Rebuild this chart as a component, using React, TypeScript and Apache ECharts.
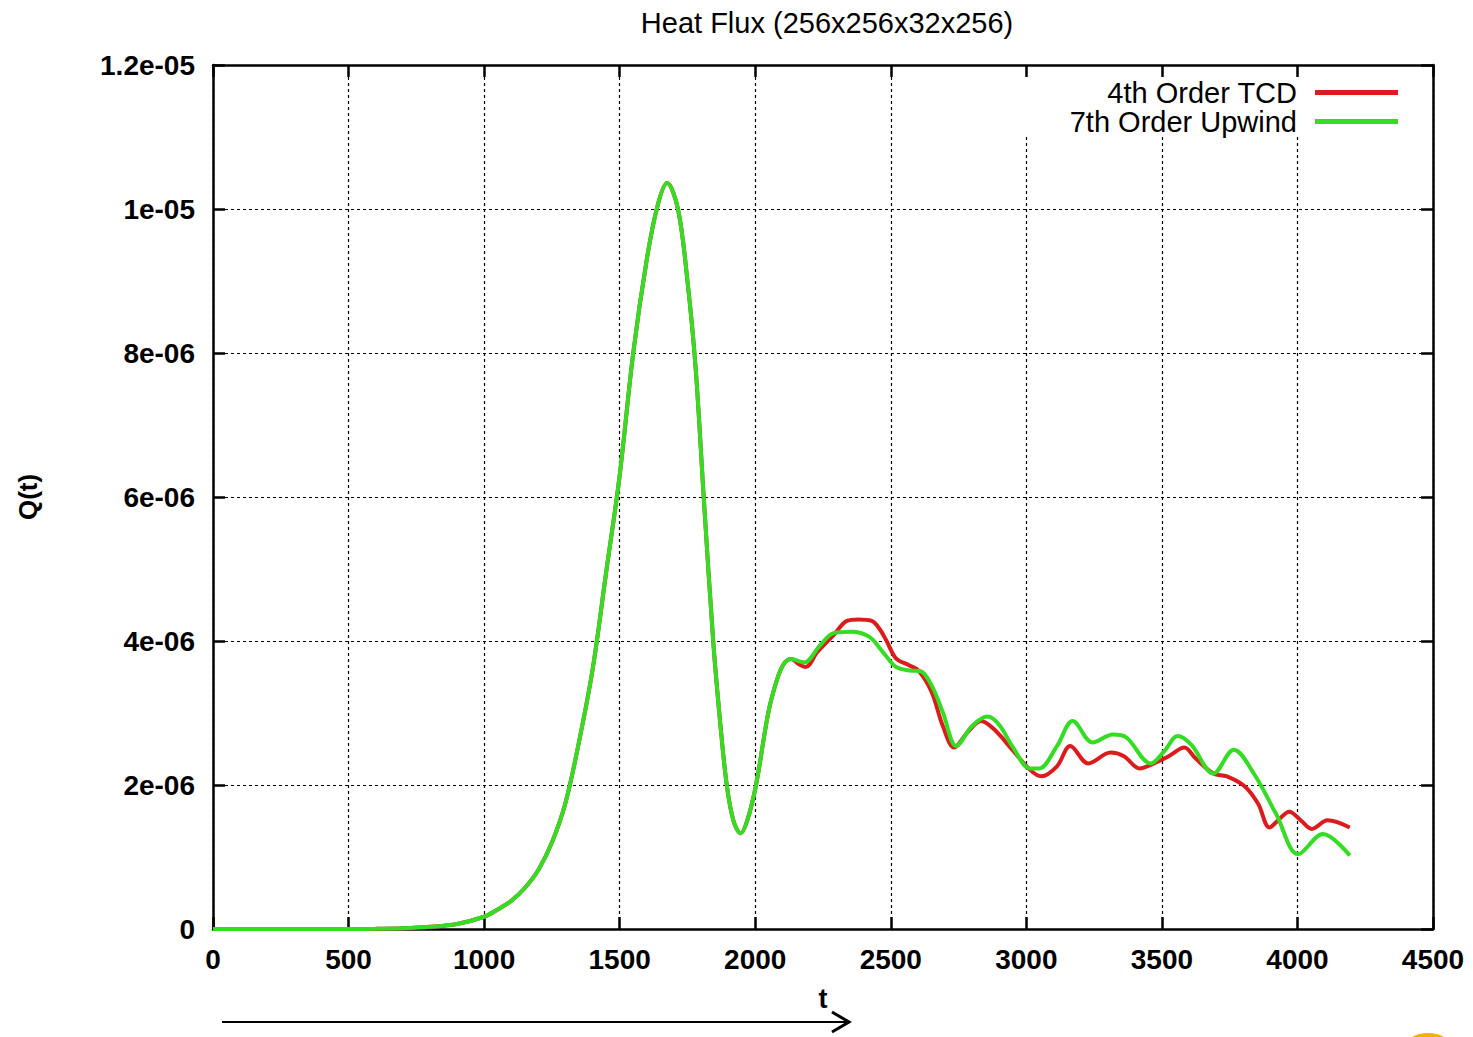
import React, { useEffect, useRef } from "react";
import * as echarts from "echarts";

// ---- Data (t, Q in units of 1e-6) ----
const tCommon = [0, 300, 500, 600, 700, 800, 900, 1000, 1050, 1100, 1150, 1200, 1250, 1300, 1350, 1400, 1450, 1500, 1550, 1600, 1640, 1675, 1715, 1750, 1780, 1810, 1845, 1870, 1895, 1920, 1946, 1970, 2003, 2048, 2080, 2105, 2133];
const qCommon = [0, 0, 0, 0.003, 0.01, 0.03, 0.07, 0.17, 0.27, 0.39, 0.57, 0.82, 1.2, 1.75, 2.6, 3.6, 4.95, 6.3, 8.0, 9.3, 10.05, 10.36, 10.0, 9.0, 7.8, 6.0, 4.0, 2.9, 2.0, 1.5, 1.33, 1.5, 2.0, 3.0, 3.46, 3.68, 3.75];

const tTCD = [2160, 2186, 2230, 2289, 2338, 2380, 2430, 2460, 2486, 2519, 2569, 2602, 2651, 2692, 2734, 2783, 2833, 2882, 2948, 3014, 3055, 3113, 3162, 3228, 3311, 3360, 3418, 3459, 3525, 3583, 3624, 3690, 3740, 3806, 3855, 3897, 3929, 3970, 4012, 4053, 4111, 4193];
const qTCD = [3.68, 3.64, 3.85, 4.08, 4.28, 4.30, 4.28, 4.16, 3.99, 3.76, 3.66, 3.59, 3.29, 2.82, 2.52, 2.73, 2.89, 2.77, 2.49, 2.21, 2.12, 2.26, 2.54, 2.30, 2.45, 2.40, 2.23, 2.28, 2.40, 2.52, 2.37, 2.16, 2.12, 1.98, 1.74, 1.41, 1.51, 1.63, 1.51, 1.39, 1.51, 1.41];

const tUpwind = [2160, 2181, 2239, 2289, 2355, 2420, 2470, 2519, 2569, 2610, 2651, 2692, 2742, 2800, 2857, 2899, 2948, 3014, 3047, 3113, 3171, 3245, 3319, 3369, 3459, 3509, 3558, 3608, 3690, 3765, 3839, 3921, 4003, 4094, 4193];
const qUpwind = [3.72, 3.70, 3.94, 4.11, 4.13, 4.06, 3.85, 3.64, 3.59, 3.58, 3.38, 3.01, 2.54, 2.82, 2.95, 2.84, 2.54, 2.23, 2.23, 2.54, 2.89, 2.59, 2.70, 2.66, 2.30, 2.47, 2.68, 2.56, 2.16, 2.49, 2.16, 1.60, 1.04, 1.32, 1.02];

const xTicks = [0, 500, 1000, 1500, 2000, 2500, 3000, 3500, 4000, 4500];
const yTickLabels = ["0", "2e-06", "4e-06", "6e-06", "8e-06", "1e-05", "1.2e-05"];
const seriesNames = ["4th Order TCD", "7th Order Upwind"];
const seriesColors = ["#dc1c1c", "#34dc24"];

const SCALE = 1e-6;
const FONT = "'Liberation Sans', Arial, sans-serif";

function build(ts: number[], qs: number[]) {
  const out: number[][] = [];
  tCommon.forEach((t, i) => out.push([t, qCommon[i] * SCALE]));
  ts.forEach((t, i) => out.push([t, qs[i] * SCALE]));
  return out;
}

export default function App() {
  const ref = useRef<HTMLDivElement>(null);
  useEffect(() => {
    if (!ref.current) return;
    const chart = echarts.init(ref.current, undefined, { renderer: "svg" });
    const axisLine = { show: true, onZero: false, lineStyle: { color: "#000", width: 2.5 } };
    const axisTick = { show: true, inside: true, length: 12, lineStyle: { color: "#000", width: 2.5 } };
    const splitLine = { show: true, lineStyle: { color: "#000", width: 1.2, type: [3, 3] as any } };
    const labelStyle = { color: "#000", fontSize: 28, fontFamily: FONT, fontWeight: "bold" as any };
    chart.setOption({
      animation: false,
      backgroundColor: "#fff",
      title: {
        text: "Heat Flux (256x256x32x256)",
        left: 822,
        top: 3,
        textAlign: "center",
        textStyle: { color: "#000", fontSize: 29, fontWeight: "normal", fontFamily: FONT },
      },
      legend: {
        orient: "vertical",
        align: "right",
        right: 43,
        top: 77,
        padding: [1, 32, 1, 70],
        backgroundColor: "#fff",
        icon: "rect",
        itemWidth: 83,
        itemHeight: 5,
        itemGap: 0,
        data: seriesNames,
        textStyle: { color: "#000", fontSize: 29, fontFamily: FONT, lineHeight: 29, padding: [0, 13, 0, 0] },
      },
      grid: { left: 213, right: 40, top: 65, bottom: 108 },
      xAxis: [
        {
          type: "value",
          min: 0,
          max: 4500,
          interval: 500,
          position: "bottom",
          name: "t",
          nameLocation: "middle",
          nameGap: 56,
          nameTextStyle: { color: "#000", fontSize: 27, fontFamily: FONT, fontWeight: "bold" },
          axisLine,
          axisTick,
          splitLine,
          axisLabel: { ...labelStyle, margin: 16, formatter: (v: number) => String(xTicks[Math.round(v / 500)] ?? v) },
        },
        {
          type: "value",
          min: 0,
          max: 4500,
          interval: 500,
          position: "top",
          axisLine,
          axisTick,
          splitLine: { show: false },
          axisLabel: { show: false },
        },
      ],
      yAxis: [
        {
          type: "value",
          min: 0,
          max: 1.2e-5,
          interval: 2e-6,
          position: "left",
          name: "Q(t)",
          nameLocation: "middle",
          nameGap: 172,
          nameRotate: 90,
          nameTextStyle: { color: "#000", fontSize: 26, fontFamily: FONT, fontWeight: "bold" },
          axisLine,
          axisTick,
          splitLine,
          axisLabel: { ...labelStyle, margin: 18, formatter: (v: number) => yTickLabels[Math.round(v / 2e-6)] ?? "" },
        },
        {
          type: "value",
          min: 0,
          max: 1.2e-5,
          interval: 2e-6,
          position: "right",
          axisLine,
          axisTick,
          splitLine: { show: false },
          axisLabel: { show: false },
        },
      ],
      series: [
        {
          name: seriesNames[0],
          type: "line",
          data: build(tTCD, qTCD),
          smooth: 0.35,
          symbol: "none",
          color: seriesColors[0],
          lineStyle: { width: 4, color: seriesColors[0] },
          z: 3,
        },
        {
          name: seriesNames[1],
          type: "line",
          data: build(tUpwind, qUpwind),
          smooth: 0.35,
          symbol: "none",
          color: seriesColors[1],
          lineStyle: { width: 4, color: seriesColors[1] },
          z: 4,
        },
      ],
      graphic: [
        { type: "line", shape: { x1: 222, y1: 1022, x2: 848, y2: 1022 }, style: { stroke: "#000", lineWidth: 2 } },
        { type: "polyline", shape: { points: [[832, 1012], [849, 1022], [832, 1032]] }, style: { stroke: "#000", lineWidth: 3, fill: null } },
        { type: "ellipse", shape: { cx: 1428, cy: 1046, rx: 22, ry: 13 }, style: { fill: "#f2b200" } },
      ],
    });
    return () => chart.dispose();
  }, []);
  return <div ref={ref} style={{ position: "fixed", left: 0, top: 0, width: 1473, height: 1037 }} />;
}
